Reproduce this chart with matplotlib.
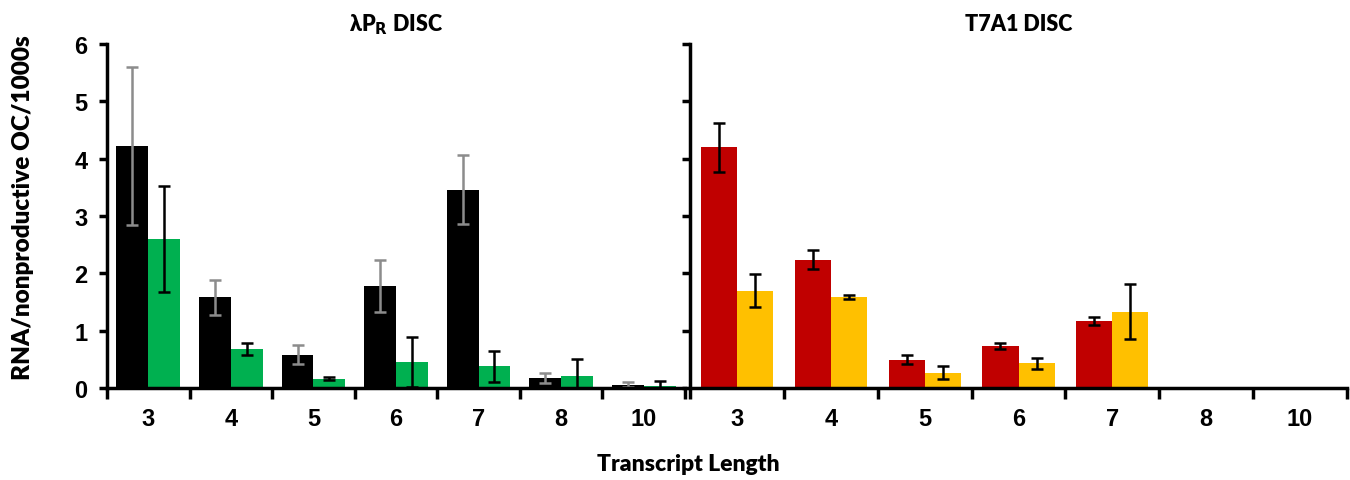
import matplotlib
matplotlib.use("Agg")
import matplotlib.pyplot as plt
import numpy as np

# transcript lengths (categories)
lengths = ["3", "4", "5", "6", "7", "8", "10"]

# lambda PR DISC
lpr_black = [4.22, 1.58, 0.58, 1.78, 3.46, 0.175, 0.06]
lpr_black_err = [1.38, 0.31, 0.165, 0.45, 0.60, 0.09, 0.04]
lpr_green = [2.60, 0.68, 0.163, 0.45, 0.38, 0.215, 0.035]
lpr_green_err = [0.92, 0.11, 0.03, 0.44, 0.27, 0.29, 0.08]

# T7A1 DISC
t7_red = [4.20, 2.24, 0.49, 0.73, 1.17, 0.0, 0.0]
t7_red_err = [0.43, 0.17, 0.08, 0.05, 0.075, 0.0, 0.0]
t7_yellow = [1.70, 1.59, 0.27, 0.43, 1.33, 0.0, 0.0]
t7_yellow_err = [0.29, 0.03, 0.11, 0.09, 0.48, 0.0, 0.0]

TICK_FONT = ["Liberation Sans Narrow", "Liberation Sans", "DejaVu Sans"]
LABEL_FONT = ["Lato", "DejaVu Sans"]
LABEL_WEIGHT = "heavy"

W, H = 1350, 481
fig = plt.figure(figsize=(W / 100, H / 100), dpi=100)

y0, y6 = 389, 45
bottom = (H - y0) / H
height = (y0 - y6) / H
ax1 = fig.add_axes([107 / W, bottom, 578 / W, height])
ax2 = fig.add_axes([690 / W, bottom, 657 / W, height])

x = np.arange(len(lengths))
bw = 0.385


def draw(ax, v1, e1, c1, ec1, v2, e2, c2, ec2):
    ekw = dict(elinewidth=1.8, capthick=1.8)
    m1 = np.array(v1) > 0
    m2 = np.array(v2) > 0
    ax.bar(x[m1] - bw / 2, np.array(v1)[m1], bw, color=c1,
           yerr=np.array(e1)[m1], ecolor=ec1, capsize=4, error_kw=ekw, zorder=2)
    ax.bar(x[m2] + bw / 2, np.array(v2)[m2], bw, color=c2,
           yerr=np.array(e2)[m2], ecolor=ec2, capsize=4, error_kw=ekw, zorder=2)
    ax.set_xlim(-0.5, len(lengths) - 0.5)
    ax.set_ylim(0, 6)
    for s in ["top", "right"]:
        ax.spines[s].set_visible(False)
    for s in ["left", "bottom"]:
        ax.spines[s].set_linewidth(2.5)
        ax.spines[s].set_zorder(3)
    ax.set_xticks(x)
    ax.set_xticklabels(lengths, fontweight="bold", fontsize=17, family=TICK_FONT)
    ax.set_xticks(np.arange(-0.5, len(lengths)), minor=True)
    ax.tick_params(axis="x", which="major", length=0, pad=14)
    ax.tick_params(axis="x", which="minor", length=8, width=2.5, direction="out")
    ax.set_yticks(range(7))
    ax.tick_params(axis="y", length=6, width=2.5, direction="out", pad=8)


draw(ax1, lpr_black, lpr_black_err, "#000000", "#8c8c8c",
     lpr_green, lpr_green_err, "#00b050", "#000000")
draw(ax2, t7_red, t7_red_err, "#c00000", "#000000",
     t7_yellow, t7_yellow_err, "#ffc000", "#000000")

for lab in ax1.get_yticklabels():
    lab.set_fontweight("bold")
    lab.set_fontsize(17)
    lab.set_family(TICK_FONT)
ax2.set_yticklabels([])

ax1.set_ylabel("RNA/nonproductive OC/1000s", fontsize=17.5, fontweight=LABEL_WEIGHT,
               family=LABEL_FONT)
ax1.yaxis.set_label_coords(-0.126, 0.526)
ax1.set_title(r"λP$_\mathbf{R}$ DISC", fontsize=15.5, fontweight=LABEL_WEIGHT,
              family=LABEL_FONT, pad=10)
ax2.set_title("T7A1 DISC", fontsize=15.5, fontweight=LABEL_WEIGHT,
              family=LABEL_FONT, pad=10)
fig.text(688 / W, 1 - 465 / H, "Transcript Length", ha="center", va="center",
         fontsize=16.5, fontweight=LABEL_WEIGHT, family=LABEL_FONT)

fig.savefig("out.png", dpi=100)
